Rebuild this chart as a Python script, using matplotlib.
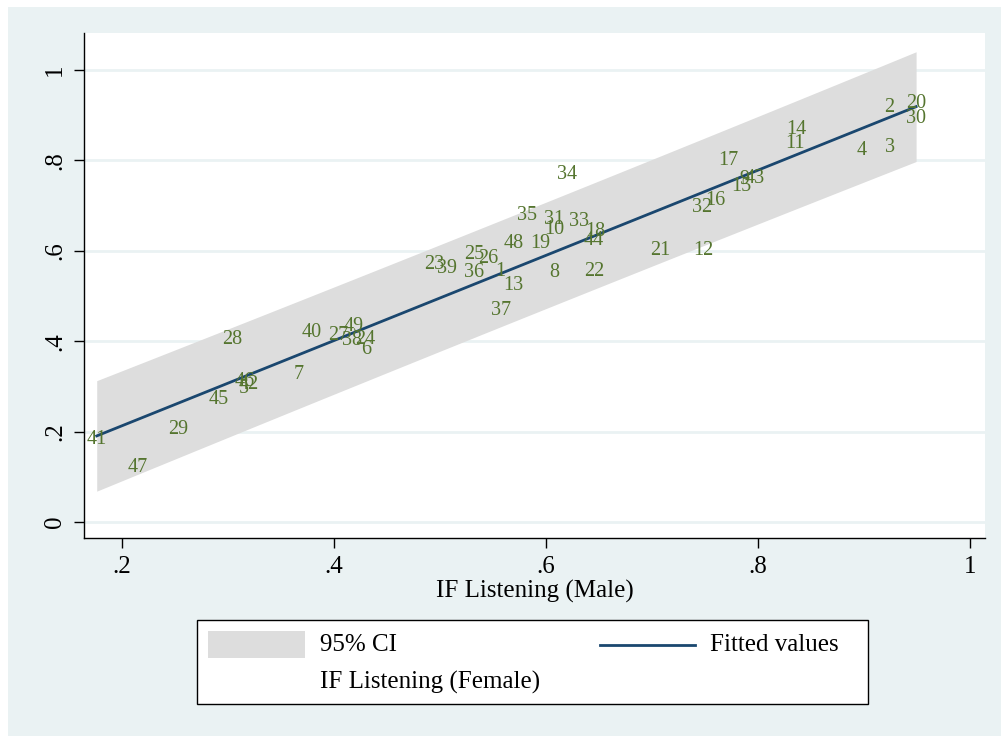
import matplotlib
matplotlib.use("Agg")
import matplotlib.pyplot as plt
from matplotlib.patches import Rectangle
from matplotlib.lines import Line2D
import numpy as np

plt.rcParams['font.family'] = ['Liberation Serif', 'DejaVu Serif']

# data: country id, IF listening male (x), female (y)
ids = [1, 2, 3, 4, 5, 6, 7, 8, 9, 10,
       11, 12, 13, 14, 15, 16, 17, 18, 19, 20,
       21, 22, 23, 24, 25, 26, 27, 28, 29, 30,
       31, 32, 33, 34, 35, 36, 37, 38, 39, 40,
       41, 42, 43, 44, 45, 46, 47, 48, 49]
male = [0.557, 0.924, 0.924, 0.898, 0.315, 0.430, 0.367, 0.608, 0.787, 0.608,
        0.835, 0.748, 0.569, 0.836, 0.784, 0.760, 0.772, 0.646, 0.594, 0.949,
        0.708, 0.645, 0.494, 0.429, 0.532, 0.545, 0.404, 0.304, 0.253, 0.949,
        0.607, 0.747, 0.631, 0.620, 0.582, 0.532, 0.557, 0.417, 0.506, 0.379,
        0.176, 0.319, 0.797, 0.645, 0.291, 0.316, 0.215, 0.569, 0.418]
female = [0.554, 0.918, 0.828, 0.823, 0.296, 0.381, 0.327, 0.552, 0.758, 0.648,
          0.838, 0.602, 0.523, 0.869, 0.743, 0.711, 0.799, 0.644, 0.617, 0.925,
          0.602, 0.554, 0.569, 0.403, 0.593, 0.583, 0.414, 0.403, 0.206, 0.892,
          0.670, 0.695, 0.664, 0.768, 0.679, 0.552, 0.468, 0.401, 0.561, 0.419,
          0.183, 0.305, 0.760, 0.622, 0.271, 0.312, 0.120, 0.617, 0.432]

x_ticks = [0.2, 0.4, 0.6, 0.8, 1.0]
x_ticklabels = ['.2', '.4', '.6', '.8', '1']
y_ticks = [0, 0.2, 0.4, 0.6, 0.8, 1.0]
y_ticklabels = ['0', '.2', '.4', '.6', '.8', '1']

bg = '#EAF2F3'
navy = '#1A476F'
green = '#55752F'
band = '#DDDDDD'

# linear fit with 95% prediction interval (like Stata lfitci, stdf)
x = np.array(male)
y = np.array(female)
n = len(x)
b, a = np.polyfit(x, y, 1)
resid = y - (a + b * x)
s = np.sqrt(np.sum(resid ** 2) / (n - 2))
sxx = np.sum((x - x.mean()) ** 2)
tval = 2.0117  # t(0.975, 47)
xg = np.linspace(x.min(), x.max(), 200)
yg = a + b * xg
hw = tval * s * np.sqrt(1 + 1 / n + (xg - x.mean()) ** 2 / sxx)

fig = plt.figure(figsize=(10.01, 7.36), dpi=100)
fig.patch.set_facecolor('white')
fig.add_artist(Rectangle((8 / 1001, 0), 1, 1 - 7 / 736, transform=fig.transFigure,
                         facecolor=bg, edgecolor='none', zorder=0))

ax = fig.add_axes([84 / 1001, 1 - 538 / 736, 901 / 1001, 505 / 736])
ax.set_facecolor('white')
ax.set_xlim(0.164, 1.014)
ax.set_ylim(-0.035, 1.082)

for t in y_ticks:
    ax.axhline(t, color=bg, lw=2, zorder=1)

ax.fill_between(xg, yg - hw, yg + hw, color=band, lw=0, zorder=2)
ax.plot(xg, yg, color=navy, lw=2, zorder=3)

for i, xv, yv in zip(ids, male, female):
    ax.text(xv, yv, str(i), color=green, fontsize=14.5, ha='center', va='center', zorder=4)

ax.spines['top'].set_visible(False)
ax.spines['right'].set_visible(False)
ax.spines['left'].set_linewidth(1)
ax.spines['bottom'].set_linewidth(1)

ax.set_xticks(x_ticks)
ax.set_xticklabels(x_ticklabels, fontsize=18)
ax.set_yticks(y_ticks)
ax.set_yticklabels(y_ticklabels, fontsize=18, rotation=90, va='center')
ax.tick_params(axis='both', direction='out', length=7, width=1, pad=6)
ax.set_xlabel('IF Listening (Male)', fontsize=18, labelpad=1)

# legend (drawn by hand, Stata style)
def fx(px):
    return px / 1001

def fy(py):
    return 1 - py / 736

fig.add_artist(Rectangle((fx(197), fy(704)), fx(868) - fx(197), fy(620) - fy(704),
                         transform=fig.transFigure, facecolor='white',
                         edgecolor='black', lw=1, zorder=5))
fig.add_artist(Rectangle((fx(208), fy(658)), fx(305) - fx(208), fy(631) - fy(658),
                         transform=fig.transFigure, facecolor=band,
                         edgecolor='none', zorder=6))
fig.add_artist(Line2D([fx(600), fx(695)], [fy(645), fy(645)], transform=fig.transFigure,
                      color=navy, lw=2, zorder=6))
fig.text(fx(320), fy(645), '95% CI', fontsize=18, va='center', zorder=7)
fig.text(fx(710), fy(645), 'Fitted values', fontsize=18, va='center', zorder=7)
fig.text(fx(320), fy(682), 'IF Listening (Female)', fontsize=18, va='center', zorder=7)

fig.savefig('out.png', dpi=100, facecolor=fig.get_facecolor())
